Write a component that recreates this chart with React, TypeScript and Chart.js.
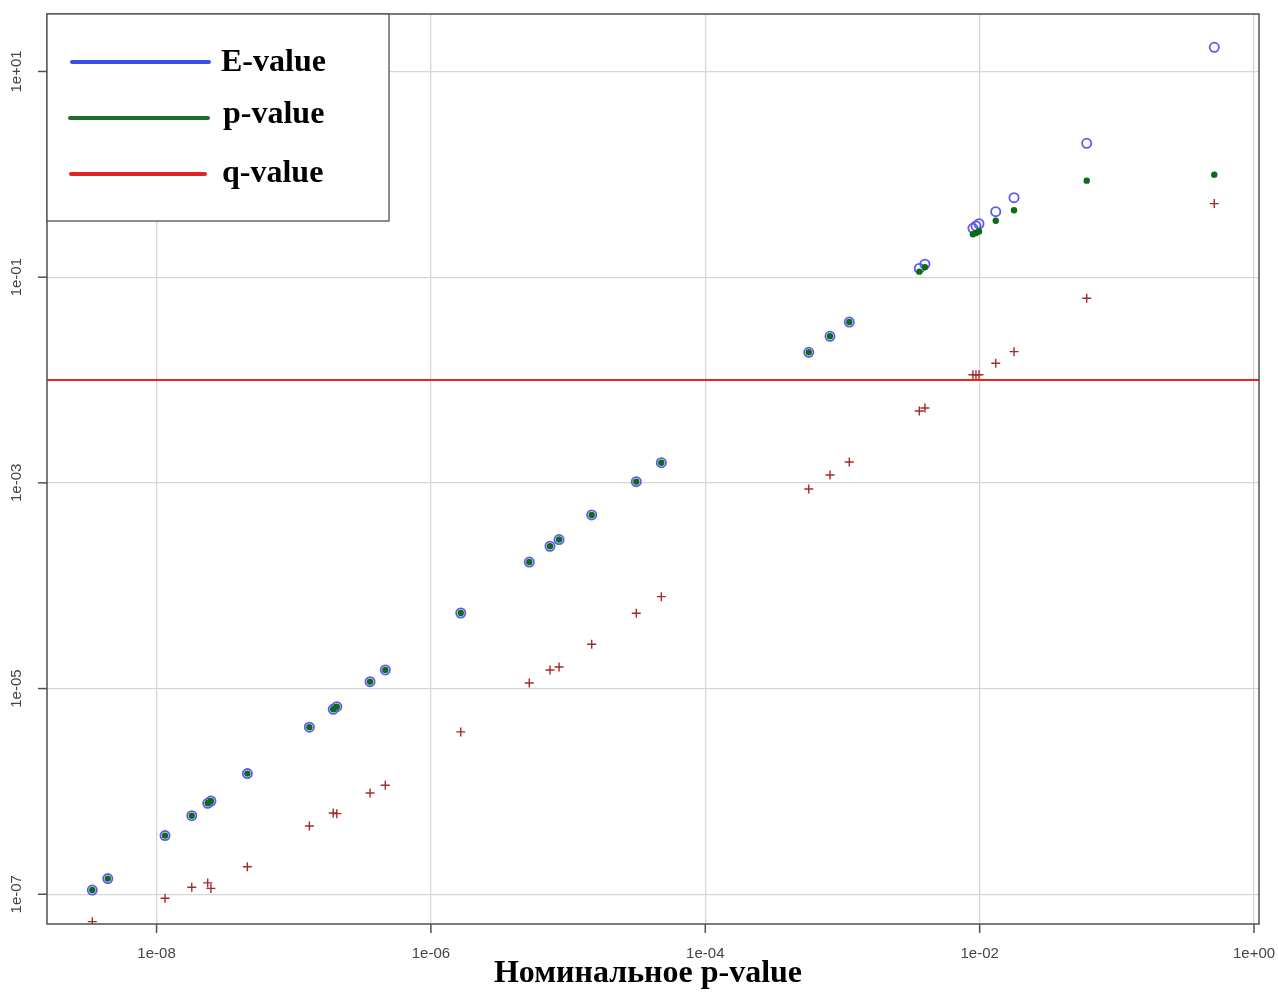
import React, { useEffect, useRef } from "react";
import { Chart, registerables } from "chart.js";

Chart.register(...registerables);

// Nominal p-value (x axis)
const nominalP = [
  3.40e-9, 4.41e-9, 1.153e-8, 1.806e-8, 2.36e-8, 2.49e-8, 4.59e-8, 1.30e-7,
  1.94e-7, 2.06e-7, 3.60e-7, 4.65e-7, 1.65e-6, 5.21e-6, 7.38e-6, 8.59e-6,
  1.486e-5, 3.14e-5, 4.78e-5, 5.68e-4, 8.11e-4, 1.121e-3, 3.63e-3, 3.99e-3,
  8.93e-3, 9.40e-3, 9.89e-3, 1.31e-2, 1.78e-2, 6.03e-2, 0.513,
];

// E-value series
const eValues = [
  1.10e-7, 1.42e-7, 3.72e-7, 5.81e-7, 7.67e-7, 8.07e-7, 1.49e-6, 4.21e-6,
  6.29e-6, 6.67e-6, 1.167e-5, 1.517e-5, 5.43e-5, 1.70e-4, 2.42e-4, 2.81e-4,
  4.88e-4, 1.028e-3, 1.57e-3, 1.86e-2, 2.66e-2, 3.66e-2, 0.1216, 0.1337,
  0.2988, 0.3147, 0.3306, 0.4335, 0.593, 2.004, 17.19,
];

// p-value series
const pValues = [
  1.10e-7, 1.42e-7, 3.72e-7, 5.81e-7, 7.67e-7, 8.07e-7, 1.49e-6, 4.21e-6,
  6.29e-6, 6.67e-6, 1.167e-5, 1.517e-5, 5.43e-5, 1.70e-4, 2.42e-4, 2.81e-4,
  4.88e-4, 1.028e-3, 1.57e-3, 1.86e-2, 2.66e-2, 3.66e-2, 0.1131, 0.1248,
  0.2612, 0.2691, 0.2781, 0.3541, 0.4472, 0.868, 0.992,
];

// q-value series (null = outside the plotted range)
const qValues = [
  5.42e-8, null, 9.14e-8, 1.17e-7, 1.29e-7, 1.14e-7, 1.85e-7, 4.61e-7,
  6.17e-7, 6.08e-7, 9.66e-7, 1.148e-6, 3.79e-6, 1.133e-5, 1.517e-5, 1.62e-5,
  2.70e-5, 5.40e-5, 7.83e-5, 8.73e-4, 1.194e-3, 1.596e-3, 5.00e-3, 5.35e-3,
  1.127e-2, 1.127e-2, 1.127e-2, 1.455e-2, 1.887e-2, 6.24e-2, 0.519,
];

const qThreshold = 0.01;

const xRange = [1.59e-9, 1.087];
const yRange = [5.14e-8, 36.2];

const xTickValues = [1e-8, 1e-6, 1e-4, 1e-2, 1];
const xTickLabels = ["1e-08", "1e-06", "1e-04", "1e-02", "1e+00"];
const yTickValues = [1e-7, 1e-5, 1e-3, 1e-1, 10];
const yTickLabels = ["1e-07", "1e-05", "1e-03", "1e-01", "1e+01"];

const legendLabels = ["E-value", "p-value", "q-value"];
const legendColors = ["#3b4ee6", "#1f6e2c", "#e02424"];
const xAxisTitle = "Номинальное p-value";

const overlayPlugin = {
  id: "rOverlay",
  afterDraw(chart: any) {
    const ctx = chart.ctx;
    const ca = chart.chartArea;
    const xs = chart.scales.x;
    const ys = chart.scales.y;
    ctx.save();

    // frame
    ctx.strokeStyle = "#505050";
    ctx.lineWidth = 1.5;
    ctx.strokeRect(ca.left, ca.top, ca.right - ca.left, ca.bottom - ca.top);

    // x ticks + labels
    ctx.fillStyle = "#444";
    ctx.font = '15px "Liberation Sans", Arial, sans-serif';
    ctx.textAlign = "center";
    ctx.textBaseline = "middle";
    xTickValues.forEach((v, i) => {
      const px = xs.getPixelForValue(v);
      ctx.beginPath();
      ctx.moveTo(px, ca.bottom);
      ctx.lineTo(px, ca.bottom + 9);
      ctx.stroke();
      ctx.fillText(xTickLabels[i], px, ca.bottom + 30);
    });

    // y ticks + rotated labels
    yTickValues.forEach((v, i) => {
      const py = ys.getPixelForValue(v);
      ctx.beginPath();
      ctx.moveTo(ca.left - 9, py);
      ctx.lineTo(ca.left, py);
      ctx.stroke();
      ctx.save();
      ctx.translate(17, py);
      ctx.rotate(-Math.PI / 2);
      ctx.fillText(yTickLabels[i], 0, 0);
      ctx.restore();
    });

    // x axis title
    ctx.fillStyle = "#000";
    ctx.font = 'bold 32px "Liberation Serif", "Times New Roman", serif';
    ctx.textBaseline = "alphabetic";
    ctx.fillText(xAxisTitle, (ca.left + ca.right) / 2 - 5, ca.bottom + 58);

    // legend box
    const lx = ca.left;
    const ly = ca.top;
    ctx.fillStyle = "#fff";
    ctx.fillRect(lx, ly, 342, 207);
    ctx.strokeStyle = "#505050";
    ctx.lineWidth = 1.3;
    ctx.strokeRect(lx, ly, 342, 207);
    const lineY = [48, 104, 160];
    const lineX0 = [25, 23, 24];
    const lineX1 = [162, 161, 158];
    const textX = [174, 176, 175];
    const textBase = [57, 109, 168];
    ctx.lineCap = "round";
    ctx.lineWidth = 4;
    legendLabels.forEach((lab, i) => {
      ctx.strokeStyle = legendColors[i];
      ctx.beginPath();
      ctx.moveTo(lx + lineX0[i], ly + lineY[i]);
      ctx.lineTo(lx + lineX1[i], ly + lineY[i]);
      ctx.stroke();
      ctx.fillStyle = "#000";
      ctx.font = 'bold 32px "Liberation Serif", "Times New Roman", serif';
      ctx.textAlign = "left";
      ctx.fillText(lab, lx + textX[i], ly + textBase[i]);
    });

    ctx.restore();
  },
};

export default function App() {
  const canvasRef = useRef<HTMLCanvasElement | null>(null);

  useEffect(() => {
    if (!canvasRef.current) return;
    const mk = (vals: (number | null)[]) =>
      nominalP
        .map((x, i) => ({ x, y: vals[i] }))
        .filter((d) => d.y !== null) as { x: number; y: number }[];

    const chart = new Chart(canvasRef.current, {
      type: "scatter",
      data: {
        datasets: [
          {
            label: "threshold",
            data: [
              { x: xRange[0], y: qThreshold },
              { x: xRange[1], y: qThreshold },
            ],
            showLine: true,
            borderColor: "#f02020",
            borderWidth: 2,
            pointRadius: 0,
          },
          {
            label: legendLabels[1],
            data: mk(pValues),
            pointStyle: "circle",
            pointRadius: 3.2,
            backgroundColor: "#0b6b18",
            borderColor: "#0b6b18",
            borderWidth: 0,
          },
          {
            label: legendLabels[0],
            data: mk(eValues),
            pointStyle: "circle",
            pointRadius: 4.6,
            backgroundColor: "rgba(0,0,0,0)",
            borderColor: "#5a5aee",
            borderWidth: 1.8,
          },
          {
            label: legendLabels[2],
            data: mk(qValues),
            pointStyle: "cross",
            pointRadius: 4.5,
            borderColor: "#a52a2a",
            borderWidth: 1.4,
          },
        ],
      } as any,
      options: {
        responsive: false,
        animation: false,
        devicePixelRatio: 1,
        layout: { padding: { top: 14, right: 19, left: 0, bottom: 0 } },
        plugins: { legend: { display: false }, tooltip: { enabled: false } },
        scales: {
          x: {
            type: "logarithmic",
            min: xRange[0],
            max: xRange[1],
            ticks: { display: false },
            grid: { color: "#d6d6d6", lineWidth: 1.3, drawTicks: false },
            border: { display: false },
            afterBuildTicks: (s: any) => {
              s.ticks = xTickValues.map((v) => ({ value: v }));
            },
            afterFit: (s: any) => {
              s.height = 72;
            },
          },
          y: {
            type: "logarithmic",
            min: yRange[0],
            max: yRange[1],
            ticks: { display: false },
            grid: { color: "#d6d6d6", lineWidth: 1.3, drawTicks: false },
            border: { display: false },
            afterBuildTicks: (s: any) => {
              s.ticks = yTickValues.map((v) => ({ value: v }));
            },
            afterFit: (s: any) => {
              s.width = 47;
            },
          },
        },
      } as any,
      plugins: [overlayPlugin],
    });
    return () => chart.destroy();
  }, []);

  return (
    <div style={{ position: "absolute", left: 0, top: 0, width: 1278, height: 996, background: "#fff" }}>
      <canvas ref={canvasRef} width={1278} height={996} style={{ display: "block" }} />
    </div>
  );
}
